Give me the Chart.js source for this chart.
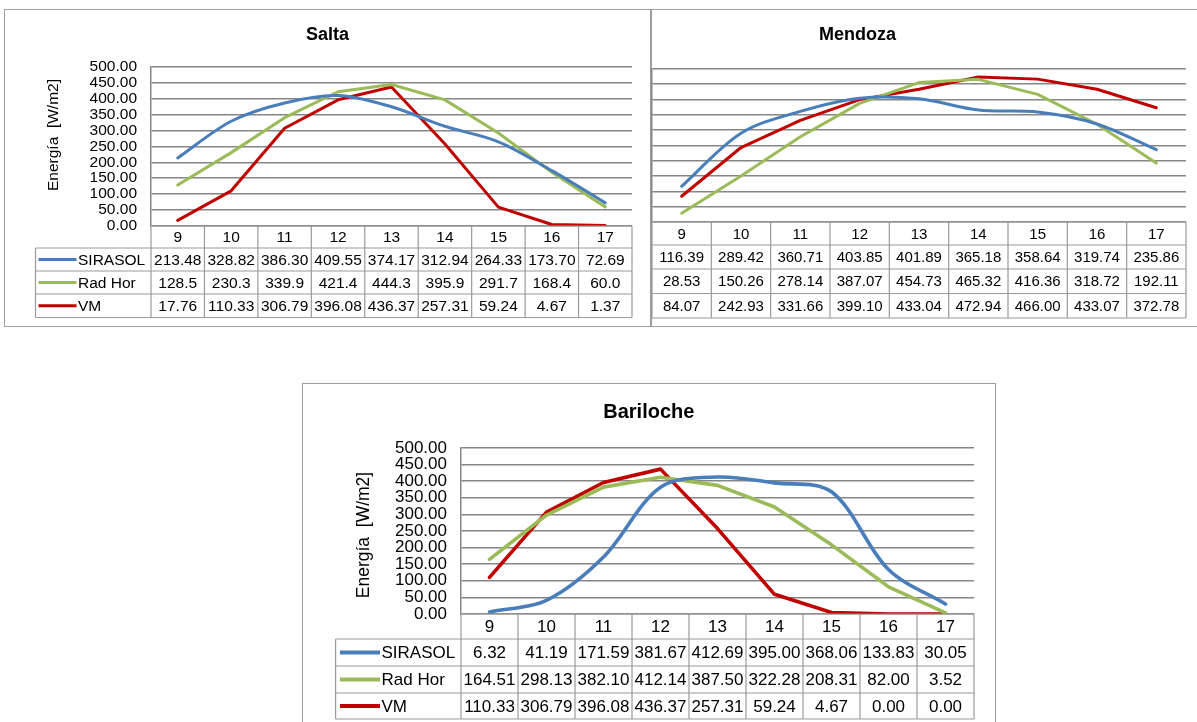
<!DOCTYPE html>
<html>
<head>
<meta charset="utf-8">
<title>Energía horaria: SIRASOL, Rad Hor y VM</title>
<script src="https://cdn.jsdelivr.net/npm/chart.js@4/dist/chart.umd.min.js"></script>
<style>
  html, body { margin: 0; padding: 0; background: #ffffff; overflow: hidden; }
  body { width: 1197px; height: 722px; position: relative; }
  .frame { position: absolute; box-sizing: border-box; border: 1.5px solid #9d9d9d; }
  canvas { position: absolute; }
</style>
</head>
<body>
<div class="frame" style="left:4px;top:9px;width:648px;height:318px;"></div>
<div class="frame" style="left:650px;top:9px;width:560px;height:318px;"></div>
<div class="frame" style="left:302px;top:383px;width:694px;height:345px;"></div>
<canvas id="salta" width="646" height="317" style="left:5px;top:9px;"></canvas>
<canvas id="mendoza" width="546" height="317" style="left:651px;top:9px;"></canvas>
<canvas id="bariloche" width="692" height="339" style="left:303px;top:383px;"></canvas>
<script>
// Hours of the day (x categories)
const hours = ['9', '10', '11', '12', '13', '14', '15', '16', '17'];
const seriesNames = ['SIRASOL', 'Rad Hor', 'VM'];
const yTicks = [0, 50, 100, 150, 200, 250, 300, 350, 400, 450, 500];

// Salta
const saltaSirasol = [213.48, 328.82, 386.30, 409.55, 374.17, 312.94, 264.33, 173.70, 72.69];
const saltaRadHor  = [128.5, 230.3, 339.9, 421.4, 444.3, 395.9, 291.7, 168.4, 60.0];
const saltaVM      = [17.76, 110.33, 306.79, 396.08, 436.37, 257.31, 59.24, 4.67, 1.37];
const saltaDecimals = [2, 1, 2];

// Mendoza
const mendozaSirasol = [116.39, 289.42, 360.71, 403.85, 401.89, 365.18, 358.64, 319.74, 235.86];
const mendozaRadHor  = [28.53, 150.26, 278.14, 387.07, 454.73, 465.32, 416.36, 318.72, 192.11];
const mendozaVM      = [84.07, 242.93, 331.66, 399.10, 433.04, 472.94, 466.00, 433.07, 372.78];
const mendozaDecimals = [2, 2, 2];

// Bariloche
const barilocheSirasol = [6.32, 41.19, 171.59, 381.67, 412.69, 395.00, 368.06, 133.83, 30.05];
const barilocheRadHor  = [164.51, 298.13, 382.10, 412.14, 387.50, 322.28, 208.31, 82.00, 3.52];
const barilocheVM      = [110.33, 306.79, 396.08, 436.37, 257.31, 59.24, 4.67, 0.00, 0.00];
const barilocheDecimals = [2, 2, 2];

const FONT = '"Liberation Sans", Arial, sans-serif';
const COLORS = ['#4a7ebb', '#9bbb59', '#c00000'];
const TENSIONS = [0.33, 0, 0];
const GRID = '#868686';
const TABLE_LINE = '#9a9a9a';

// Chart title and rotated y-axis title
const panelText = {
  id: 'panelText',
  afterDraw(chart, args, o) {
    const ctx = chart.ctx;
    ctx.save();
    ctx.fillStyle = '#000';
    ctx.textAlign = 'center';
    ctx.textBaseline = 'middle';
    ctx.font = `bold ${o.titleSize}px ${FONT}`;
    ctx.fillText(o.title, o.titleX, o.titleY);
    if (o.axisTitle) {
      ctx.translate(o.axisX, o.axisY);
      ctx.rotate(-Math.PI / 2);
      ctx.font = `${o.axisSize}px ${FONT}`;
      ctx.fillText(o.axisTitle, 0, 0);
    }
    ctx.restore();
  }
};

// Data table under the plot: hour row, then one row per series
const dataTable = {
  id: 'dataTable',
  afterDraw(chart, args, o) {
    const { ctx, chartArea: a, scales: { x } } = chart;
    const labels = chart.data.labels;
    const sets = chart.data.datasets;
    const half = (x.getPixelForValue(1) - x.getPixelForValue(0)) / 2;
    const edges = [a.bottom];
    o.rowHeights.forEach(h => edges.push(edges[edges.length - 1] + h));
    const last = edges.length - 1;
    const hasKey = o.legendLeft !== null && o.legendLeft !== undefined;
    const left = hasKey ? o.legendLeft : a.left;

    ctx.save();
    ctx.strokeStyle = TABLE_LINE;
    ctx.lineWidth = o.lineWidth;
    ctx.beginPath();
    ctx.moveTo(a.left, edges[0]);
    ctx.lineTo(a.right, edges[0]);
    for (let r = 1; r <= last; r++) {
      ctx.moveTo(left, edges[r]);
      ctx.lineTo(a.right, edges[r]);
    }
    for (let i = 0; i <= labels.length; i++) {
      const px = i < labels.length ? x.getPixelForValue(i) - half
                                   : x.getPixelForValue(labels.length - 1) + half;
      ctx.moveTo(px, edges[0]);
      ctx.lineTo(px, edges[last]);
    }
    if (hasKey) {
      ctx.moveTo(left, edges[1]);
      ctx.lineTo(left, edges[last]);
    }
    ctx.stroke();

    ctx.fillStyle = '#000';
    ctx.textBaseline = 'middle';
    ctx.font = `${o.fontSize}px ${FONT}`;
    ctx.textAlign = 'center';
    labels.forEach((lab, i) => {
      ctx.fillText(lab, x.getPixelForValue(i), (edges[0] + edges[1]) / 2 + 1);
    });
    sets.forEach((ds, s) => {
      const cy = (edges[s + 1] + edges[s + 2]) / 2 + 1;
      ctx.textAlign = 'center';
      ds.data.forEach((v, i) => {
        ctx.fillText(v.toFixed(o.decimals[s]), x.getPixelForValue(i), cy);
      });
      if (hasKey) {
        const k0 = left + o.keyOffset;
        const k1 = k0 + o.keyLength;
        ctx.strokeStyle = ds.borderColor;
        ctx.lineWidth = o.keyWidth;
        ctx.beginPath();
        ctx.moveTo(k0, cy - 1);
        ctx.lineTo(k1, cy - 1);
        ctx.stroke();
        ctx.textAlign = 'left';
        ctx.fillText(ds.label, k1 + 1.5, cy);
      }
    });
    ctx.restore();
  }
};

function buildChart(id, values, cfg) {
  const datasets = values.map((vals, s) => ({
    label: seriesNames[s],
    data: vals,
    borderColor: COLORS[s],
    backgroundColor: COLORS[s],
    borderWidth: cfg.lineWidth,
    tension: TENSIONS[s],
    pointRadius: 0,
    pointHoverRadius: 0,
    borderCapStyle: 'round',
    borderJoinStyle: 'round',
    fill: false
  }));
  return new Chart(document.getElementById(id), {
    type: 'line',
    data: { labels: hours, datasets },
    plugins: [panelText, dataTable],
    options: {
      responsive: false,
      animation: false,
      events: [],
      layout: { padding: cfg.padding },
      scales: {
        x: {
          type: 'category',
          offset: true,
          display: false
        },
        y: {
          min: 0,
          max: 500,
          afterBuildTicks: (scale) => { scale.ticks = yTicks.map(v => ({ value: v })); },
          afterFit: (scale) => { scale.width = cfg.yWidth; },
          border: { display: true, color: GRID, width: 1.5 },
          grid: { color: GRID, lineWidth: 1.5, drawTicks: false },
          ticks: {
            display: cfg.showTicks,
            autoSkip: false,
            padding: 14,
            color: '#000',
            font: { family: FONT, size: cfg.tickSize, lineHeight: 1 },
            callback: (v) => Number(v).toFixed(2)
          }
        }
      },
      plugins: {
        legend: { display: false },
        tooltip: { enabled: false },
        title: { display: false },
        panelText: cfg.text,
        dataTable: cfg.table
      }
    }
  });
}

buildChart('salta', [saltaSirasol, saltaRadHor, saltaVM], {
  lineWidth: 3,
  padding: { left: 0, right: 19, top: 57.7, bottom: 100 },
  yWidth: 146,
  showTicks: true,
  tickSize: 15.5,
  text: { title: 'Salta', titleSize: 18, titleX: 322.5, titleY: 26,
          axisTitle: 'Energía  [W/m2]', axisSize: 15.5, axisX: 49, axisY: 126 },
  table: { rowHeights: [22, 23, 23, 23.5], decimals: saltaDecimals, fontSize: 15.5,
           lineWidth: 1.2, legendLeft: 30.5, keyOffset: 3, keyLength: 38, keyWidth: 3 }
});

buildChart('mendoza', [mendozaSirasol, mendozaRadHor, mendozaVM], {
  lineWidth: 3,
  padding: { left: 1, right: 11, top: 59.7, bottom: 104 },
  yWidth: 0,
  showTicks: false,
  tickSize: 15,
  text: { title: 'Mendoza', titleSize: 18, titleX: 206.6, titleY: 26, axisTitle: '' },
  table: { rowHeights: [23, 24, 24.5, 24.5], decimals: mendozaDecimals, fontSize: 15,
           lineWidth: 1.2, legendLeft: null }
});

buildChart('bariloche', [barilocheSirasol, barilocheRadHor, barilocheVM], {
  lineWidth: 3.6,
  padding: { left: 0, right: 21, top: 65, bottom: 108 },
  yWidth: 158,
  showTicks: true,
  tickSize: 17,
  text: { title: 'Bariloche', titleSize: 20, titleX: 345.8, titleY: 29,
          axisTitle: 'Energía  [W/m2]', axisSize: 17.5, axisX: 61, axisY: 152 },
  table: { rowHeights: [25, 27, 27, 26], decimals: barilocheDecimals, fontSize: 17,
           lineWidth: 1.2, legendLeft: 32.6, keyOffset: 4.4, keyLength: 40, keyWidth: 4 }
});
</script>
</body>
</html>
